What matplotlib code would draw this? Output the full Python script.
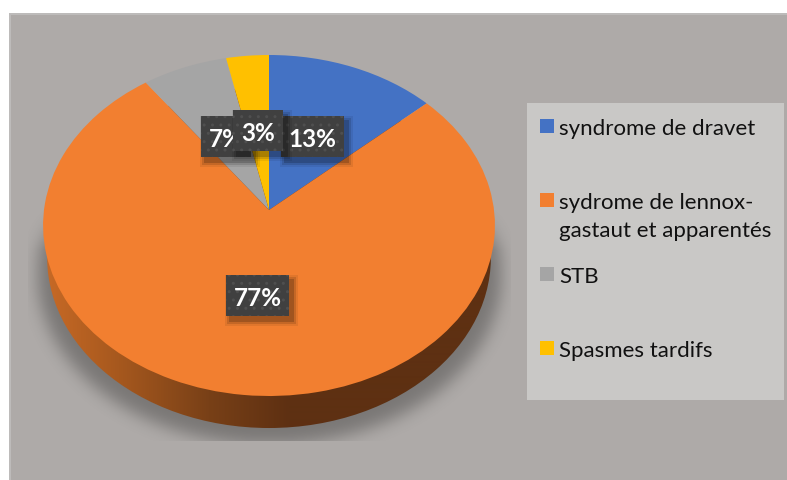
import numpy as np
import matplotlib
matplotlib.use("Agg")
import matplotlib.pyplot as plt
from matplotlib.patches import Rectangle, Circle
from matplotlib.transforms import Transform

# ---- data ----
categories = ["syndrome de dravet", "sydrome de lennox-\ngastaut et apparentés", "STB", "Spasmes tardifs"]
values = [4, 23, 2, 1]
colors = ["#4472C4", "#F27F30", "#A5A5A5", "#FFC000"]
value_labels = ["13%", "77%", "7%", "3%"]

# ---- layout (pixels) ----
W, H = 787, 481
CX, CY = 269, 211
A, B, K = 225, 169.1, 0.0909      # perspective of the pie disc
DEPTH = 33
label_centers = {"7%": (226, 137.5), "13%": (312.5, 137.5), "3%": (258, 131.5), "77%": (257.5, 296.5)}
label_widths = {"7%": 50, "13%": 63, "3%": 50, "77%": 63}
label_order = ["7%", "13%", "3%", "77%"]
legend_rows = [127, 201, 275, 349]
legend_line_step = 28

plt.rcParams["font.family"] = ["Lato", "DejaVu Sans"]
plt.rcParams["hatch.linewidth"] = 1.0


class Perspective(Transform):
    input_dims = output_dims = 2

    def __init__(self, xscale=1.0, dy=0.0):
        super().__init__()
        self.xscale, self.dy = xscale, dy

    def transform_non_affine(self, pts):
        pts = np.asarray(pts, float)
        d = 1 + K * pts[:, 1]
        return np.column_stack([CX + self.xscale * A * pts[:, 0] / d,
                                CY + self.dy - B * pts[:, 1] / d])


fig = plt.figure(figsize=(W / 100, H / 100), dpi=100, facecolor="white")
ax = fig.add_axes([0, 0, 1, 1])

# top face of the pie through the library's wedge geometry
wedges, _ = ax.pie(values, colors=colors, startangle=90, counterclock=False,
                   radius=1, frame=True, wedgeprops={"linewidth": 0})
ax.set_aspect("auto")
ax.set_xlim(0, W)
ax.set_ylim(H, 0)
ax.axis("off")
for w in wedges:
    w.set_transform(Perspective() + ax.transData)
    w.set_zorder(5)

# background panel
ax.add_patch(Rectangle((9, 14), W - 9, H - 14, fc="#BDBBBA", ec="none", zorder=0))
ax.add_patch(Rectangle((11, 16), W - 11, H - 16, fc="#AEAAA8", ec="none", zorder=0.1))

# soft ground shadow
yy, xx = np.mgrid[0:H, 0:W]
sx0, sx1, sy1 = 28, 510, 441
mask = (((xx - CX) / 232.0) ** 2 + ((yy - 275) / 170.0) ** 2 <= 1).astype(float)
kernel = np.exp(-0.5 * (np.arange(-30, 31) / 8.0) ** 2)
kernel /= kernel.sum()
blur = np.apply_along_axis(lambda m: np.convolve(m, kernel, mode="same"), 0, mask)
blur = np.apply_along_axis(lambda m: np.convolve(m, kernel, mode="same"), 1, blur)
ramp = np.clip((yy - 205) / 45.0, 0, 1)
shadow = np.zeros((H, W, 4))
shadow[..., 3] = 0.30 * blur * ramp
shadow[(xx < sx0) | (xx > sx1) | (yy > sy1), 3] = 0
ax.imshow(shadow, extent=(0, W, H, 0), zorder=1, aspect="auto", interpolation="bilinear")

# extruded side wall with a left-to-right gradient
stops_x = [CX - 226, CX - 150, CX - 60, CX + 20, CX + 226]
stops = np.array([[0xC8, 0x6A, 0x26], [0xA6, 0x58, 0x1E], [0x78, 0x40, 0x17], [0x5E, 0x30, 0x12], [0x5E, 0x30, 0x12]]) / 255
xs = np.arange(W)
grad = np.column_stack([np.interp(xs, stops_x, stops[:, i]) for i in range(3)])[None, :, :]
wall = ax.imshow(grad, extent=(0, W, H, 0), zorder=2, aspect="auto", interpolation="bilinear")
clip = Circle((0, 0), 1, transform=Perspective(xscale=0.982, dy=DEPTH - 1) + ax.transData, fc="none", ec="none")
ax.add_patch(clip)
wall.set_clip_path(clip)
ax.set_xlim(0, W)
ax.set_ylim(H, 0)

# data labels
for i, name in enumerate(label_order):
    cx, cy = label_centers[name]
    bw, bh = label_widths[name], 41
    z = 10 + i
    for grow, alpha in ((5, 0.07), (3, 0.12), (1, 0.18)):
        ax.add_patch(Rectangle((cx - bw / 2 + 4 - grow, cy - bh / 2 + 5 - grow), bw + 2 * grow, bh + 2 * grow,
                               fc="black", ec="none", alpha=alpha, zorder=z))
    ax.add_patch(Rectangle((cx - bw / 2, cy - bh / 2), bw, bh, fc="#404040", ec="none", zorder=z + 0.1))
    ax.add_patch(Rectangle((cx - bw / 2, cy - bh / 2), bw, bh, fc="none", ec="#4F4F4F", lw=0, hatch="..", zorder=z + 0.2))
    ax.text(cx, cy + 2, name, color="white", fontsize=17.5, fontweight="bold", ha="center", va="center", zorder=z + 0.3)

# legend
ax.add_patch(Rectangle((527, 104), 257, 297, fc="#C9C8C6", ec="none", zorder=3))
for cat, col, row in zip(categories, colors, legend_rows):
    ax.add_patch(Rectangle((540, row - 7), 14, 14, fc=col, ec="none", zorder=4))
    for j, line in enumerate(cat.split("\n")):
        ax.text(559, row + 8 + j * legend_line_step, line, color="#111111", fontsize=16,
                ha="left", va="baseline", zorder=4)

fig.savefig("out.png", dpi=100, facecolor="white")
